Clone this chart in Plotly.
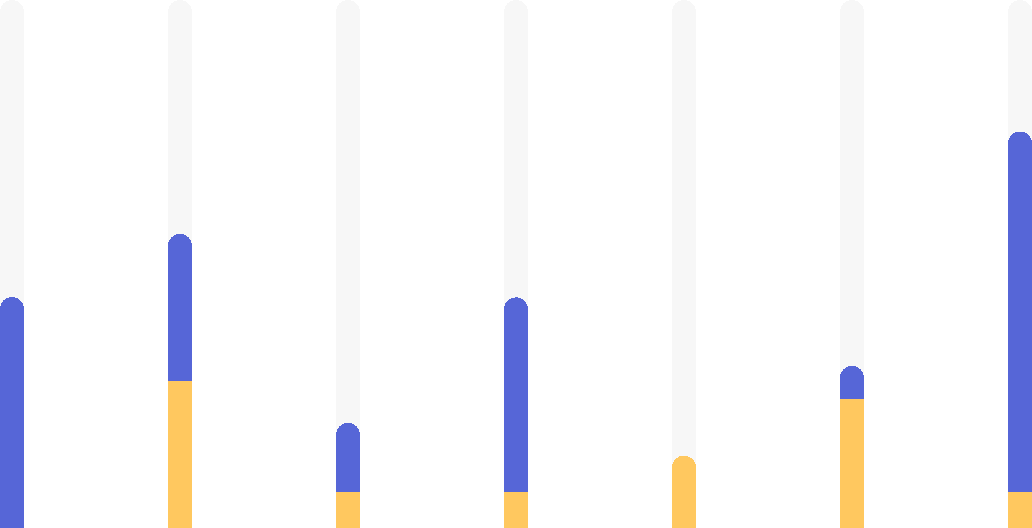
import plotly.graph_objects as go

categories = ["A", "B", "C", "D", "E", "F", "G"]
yellow_values = [0, 27.8, 6.8, 6.8, 13.7, 24.5, 6.9]
blue_values = [43.75, 27.9, 13.1, 36.9, 0, 6.2, 68.2]
background_values = [100, 100, 100, 100, 100, 100, 100]

x_pos = list(range(len(categories)))
bar_w = 1 / 7

fig = go.Figure()
fig.add_trace(go.Bar(x=x_pos, y=background_values, width=bar_w,
                     marker=dict(color="#f7f7f7", line=dict(width=0)),
                     xaxis="x", yaxis="y", hoverinfo="skip", showlegend=False))
fig.add_trace(go.Bar(x=x_pos, y=yellow_values, width=bar_w, name="yellow",
                     marker=dict(color="#ffc85f", line=dict(width=0)),
                     xaxis="x2", yaxis="y2", showlegend=False))
fig.add_trace(go.Bar(x=x_pos, y=blue_values, width=bar_w, name="blue",
                     marker=dict(color="#5666d7", line=dict(width=0)),
                     xaxis="x2", yaxis="y2", showlegend=False))

xr = [-0.5 / 7, len(categories) - 1 + 0.5 / 7]
axis_common = dict(visible=False, showgrid=False, zeroline=False, fixedrange=True)
fig.update_layout(
    width=1032, height=528,
    margin=dict(l=0, r=0, t=0, b=0, pad=0),
    paper_bgcolor="white", plot_bgcolor="white",
    barmode="stack", barcornerradius=12,
    xaxis=dict(range=xr, **axis_common),
    yaxis=dict(range=[0, 100], **axis_common),
    xaxis2=dict(range=xr, overlaying="x", **axis_common),
    yaxis2=dict(range=[0, 100], overlaying="y", **axis_common),
    showlegend=False,
)
fig.write_html("out.html")
